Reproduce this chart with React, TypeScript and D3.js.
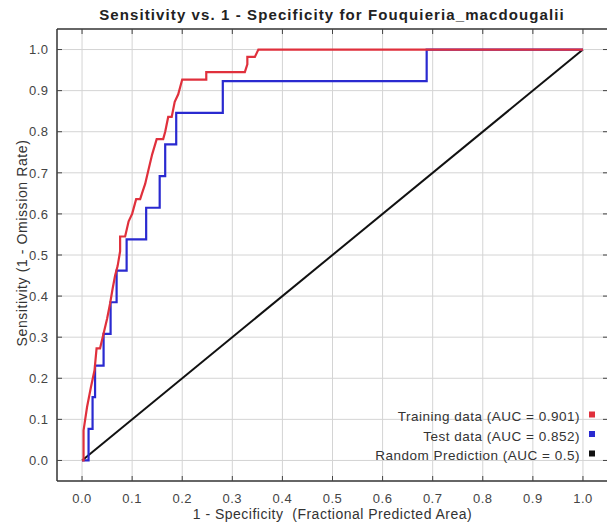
import React from "react";
import * as d3 from "d3";

const titleText = "Sensitivity vs. 1 - Specificity for Fouquieria_macdougalii";
const xLabel = "1 - Specificity  (Fractional Predicted Area)";
const yLabel = "Sensitivity (1 - Omission Rate)";
const ticks = [0, 0.1, 0.2, 0.3, 0.4, 0.5, 0.6, 0.7, 0.8, 0.9, 1.0];

const trainingX = [0, 0.003, 0.003, 0.01, 0.018, 0.025, 0.029, 0.036, 0.043, 0.05, 0.056, 0.061, 0.066, 0.071, 0.076, 0.076, 0.086, 0.093, 0.1, 0.108, 0.116, 0.121, 0.126, 0.133, 0.14, 0.149, 0.162, 0.166, 0.172, 0.179, 0.185, 0.192, 0.2, 0.248, 0.248, 0.325, 0.33, 0.33, 0.345, 0.352, 1.0];
const trainingY = [0, 0, 0.073, 0.13, 0.18, 0.22, 0.273, 0.273, 0.309, 0.345, 0.382, 0.418, 0.45, 0.473, 0.509, 0.545, 0.545, 0.582, 0.6, 0.636, 0.636, 0.655, 0.673, 0.709, 0.745, 0.782, 0.782, 0.8, 0.836, 0.836, 0.873, 0.891, 0.927, 0.927, 0.945, 0.945, 0.964, 0.982, 0.982, 1.0, 1.0];

const testX = [0, 0.013, 0.013, 0.021, 0.021, 0.026, 0.026, 0.043, 0.043, 0.057, 0.057, 0.069, 0.069, 0.089, 0.089, 0.128, 0.128, 0.155, 0.155, 0.166, 0.166, 0.188, 0.188, 0.281, 0.281, 0.688, 0.688, 1.0];
const testY = [0, 0, 0.077, 0.077, 0.154, 0.154, 0.231, 0.231, 0.308, 0.308, 0.385, 0.385, 0.462, 0.462, 0.538, 0.538, 0.615, 0.615, 0.692, 0.692, 0.769, 0.769, 0.846, 0.846, 0.923, 0.923, 1.0, 1.0];

const randomX = [0, 1];
const randomY = [0, 1];

const legendLabels = ["Training data (AUC = 0.901)", "Test data (AUC = 0.852)", "Random Prediction (AUC = 0.5)"];
const legendColors = ["#e0303c", "#2a2ad0", "#111111"];

const W = 607;
const H = 528;

export default function App() {
  const x = d3.scaleLinear().domain([-0.05, 1.05]).range([57, 608]);
  const y = d3.scaleLinear().domain([-0.05, 1.05]).range([481, 29]);
  const line = d3
    .line<[number, number]>()
    .x((d) => x(d[0]))
    .y((d) => y(d[1]));
  const zip = (a: number[], b: number[]) => a.map((v, i) => [v, b[i]] as [number, number]);
  const font = "'Liberation Sans', Arial, sans-serif";
  const left = x.range()[0];
  const right = x.range()[1];
  const top = y.range()[1];
  const bottom = y.range()[0];

  return (
    <svg
      width={W}
      height={H}
      style={{ position: "absolute", left: 0, top: 0, background: "#fff" }}
      fontFamily={font}
    >
      <rect x={0} y={0} width={W} height={H} fill="#fff" />
      {/* grid */}
      {ticks.map((t) => (
        <g key={"g" + t}>
          <line x1={x(t)} x2={x(t)} y1={top} y2={bottom} stroke="#d4d4d4" strokeWidth={1} />
          <line x1={left} x2={right} y1={y(t)} y2={y(t)} stroke="#d4d4d4" strokeWidth={1} />
        </g>
      ))}
      {/* frame */}
      <line x1={left} x2={right} y1={top} y2={top} stroke="#333" strokeWidth={1.5} />
      <line x1={left} x2={right} y1={bottom} y2={bottom} stroke="#333" strokeWidth={1.5} />
      <line x1={left} x2={left} y1={top} y2={bottom} stroke="#333" strokeWidth={1.5} />
      {/* ticks */}
      {ticks.map((t) => (
        <g key={"t" + t} stroke="#444" strokeWidth={1}>
          <line x1={x(t)} x2={x(t)} y1={bottom} y2={bottom - 5} />
          <line x1={x(t)} x2={x(t)} y1={top} y2={top + 5} />
          <line x1={left} x2={left + 5} y1={y(t)} y2={y(t)} />
          <line x1={right - 5} x2={right} y1={y(t)} y2={y(t)} />
        </g>
      ))}
      {/* tick labels */}
      {ticks.map((t) => (
        <text key={"xl" + t} x={x(t)} y={503} textAnchor="middle" fontSize={13} letterSpacing={0.5} fill="#444">
          {d3.format(".1f")(t)}
        </text>
      ))}
      {ticks.map((t) => (
        <text key={"yl" + t} x={48.5} y={y(t) + 4.7} textAnchor="end" fontSize={13} letterSpacing={0.5} fill="#444">
          {d3.format(".1f")(t)}
        </text>
      ))}
      {/* curves */}
      <path d={line(zip(randomX, randomY)) || ""} fill="none" stroke="#111" strokeWidth={2} />
      <path d={line(zip(testX, testY)) || ""} fill="none" stroke="#2a2ad0" strokeWidth={2.2} />
      <path d={line(zip(trainingX, trainingY)) || ""} fill="none" stroke="#e0303c" strokeWidth={2.2} />
      {/* title & labels */}
      <text x={332} y={19.5} textAnchor="middle" fontSize={15} fontWeight="bold" letterSpacing={1.1} fill="#222">
        {titleText}
      </text>
      <text
        x={332.5}
        y={518.5}
        textAnchor="middle"
        fontSize={14}
        letterSpacing={0.5}
        fill="#333"
        style={{ whiteSpace: "pre" }}
      >
        {xLabel}
      </text>
      <text
        transform={`translate(27,243) rotate(-90)`}
        textAnchor="middle"
        fontSize={14}
        letterSpacing={0.6}
        fill="#333"
      >
        {yLabel}
      </text>
      {/* legend */}
      {legendLabels.map((l, i) => (
        <g key={"lg" + i}>
          <text x={580} y={421 + i * 19.5} textAnchor="end" fontSize={13.5} letterSpacing={0.5} fill="#333">
            {l}
          </text>
          <rect x={589} y={411.5 + i * 19.5} width={6} height={6} fill={legendColors[i]} />
        </g>
      ))}
    </svg>
  );
}
